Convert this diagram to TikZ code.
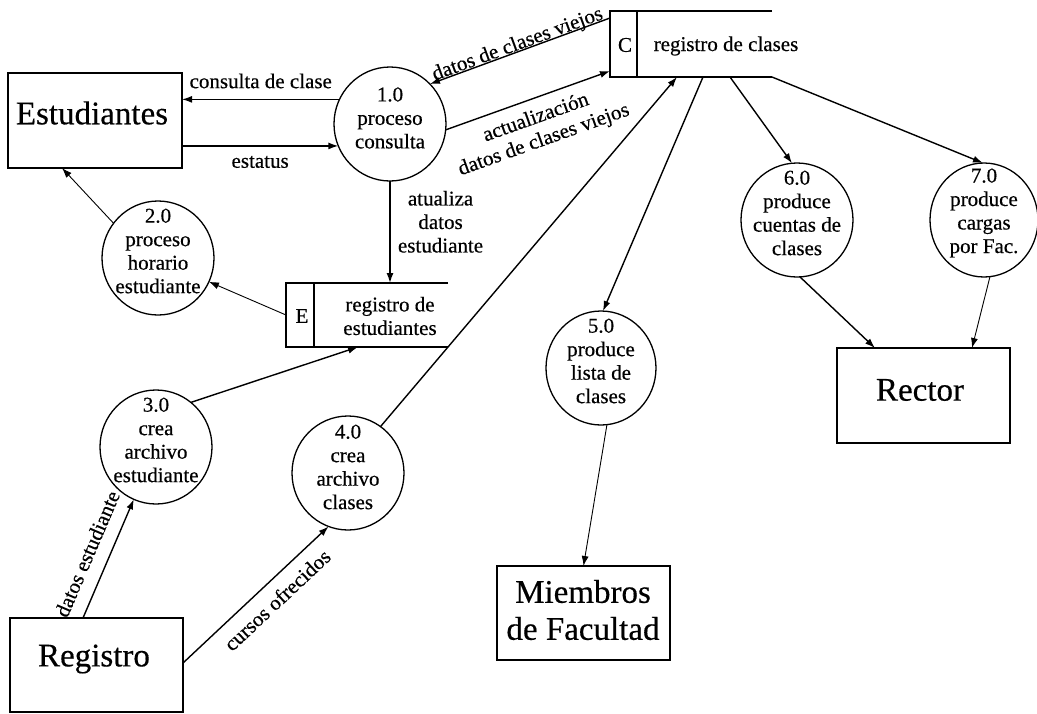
\documentclass[tikz,border=0pt]{standalone}
\usepackage{fontspec}
\setmainfont{Liberation Serif}[FakeBold=0.4]
\usetikzlibrary{shapes.geometric,arrows.meta}

\tikzset{
  every node/.style={outer sep=0pt},
  ext/.style={draw, rectangle, line width=1.7pt, inner sep=0pt},
  store/.style={rectangle, inner sep=0pt},
  storeline/.style={line width=1.5pt},
  proc/.style={draw, ellipse, line width=1.3pt, inner sep=0pt,
               minimum width=112pt, minimum height=114pt},
  small/.style={font=\fontsize{21}{23.5}\selectfont, align=center, inner sep=0pt},
  large/.style={font=\fontsize{33}{37}\selectfont, align=center, inner sep=0pt},
  flow/.style={line width=1.4pt, -{Latex[length=10pt,width=7pt]}},
  fine/.style={line width=0.9pt, -{Latex[length=10pt,width=7pt]}},
}

\begin{document}
\begin{tikzpicture}[x=1pt,y=-1pt]
\useasboundingbox[fill=white] (0,0) rectangle (1037,713);

% external entities
\node[ext, minimum width=174pt, minimum height=95pt] (est) at (95,120.5) {};
\node[large] (estT) at (92,113) {Estudiantes};
\node[ext, minimum width=173pt, minimum height=94pt] (reg) at (96.5,665) {};
\node[large] (regT) at (94,659) {Registro};
\node[ext, minimum width=173pt, minimum height=94pt] (mf) at (583.5,613) {};
\node[large] (mfT) at (583,610) {Miembros\\de Facultad};
\node[ext, minimum width=173pt, minimum height=95pt] (rec) at (923.5,395.5) {};
\node[large] (recT) at (920,390) {Rector};

% data stores (open on the right)
\node[store, minimum width=162pt, minimum height=66pt] (cs) at (691,44) {};
\draw[storeline] (cs.north east) -- (cs.north west) -- (cs.south west) -- (cs.south east);
\draw[line width=1.2pt] ([xshift=27pt]cs.north west) -- ([xshift=27pt]cs.south west);
\node[small] (csL) at (625,45) {C};
\node[small] (csT) at (726,46) {registro de clases};

\node[store, minimum width=162pt, minimum height=64pt] (es) at (367,315) {};
\draw[storeline] (es.north east) -- (es.north west) -- (es.south west) -- (es.south east);
\draw[line width=1.2pt] ([xshift=28pt]es.north west) -- ([xshift=28pt]es.south west);
\node[small] (esL) at (302,316) {E};
\node[small] (esT) at (390,316) {registro de\\estudiantes};

% processes
\node[proc] (p1) at (390,124) {};
\node[small] (p1T) at (390,118) {1.0\\proceso\\consulta};
\node[proc] (p2) at (158,258) {};
\node[small] (p2T) at (158,251) {2.0\\proceso\\horario\\estudiante};
\node[proc] (p3) at (156,447) {};
\node[small] (p3T) at (156,440) {3.0\\crea\\archivo\\estudiante};
\node[proc] (p4) at (348,473) {};
\node[small] (p4T) at (348,467) {4.0\\crea\\archivo\\clases};
\node[proc, minimum width=110pt] (p5) at (601,368) {};
\node[small] (p5T) at (601,361) {5.0\\produce\\lista de\\clases};
\node[proc] (p6) at (797,220) {};
\node[small] (p6T) at (797,213) {6.0\\produce\\cuentas de\\clases};
\node[proc, minimum width=108pt] (p7) at (984,220) {};
\node[small] (p7T) at (984,213) {7.0\\produce\\cargas\\por Fac.};

% flows
\draw[flow] (p1.154) -- (p1.154 -| est.east)
  node[small, midway, above=11pt] {consulta de clase};
\draw[flow] (p1.203 -| est.east) -- (p1.203)
  node[small, midway, below=10pt] {estatus};
\draw[flow] ([yshift=-7pt]cs.north west) -- (p1.45)
  node[small, sloped, pos=0.5, above=-3pt] {datos de clases viejos};
\draw[flow] (p1.354) -- ([yshift=6pt]cs.south west)
  node[small, sloped, pos=0.51, below=10pt] {actualización\\datos de clases viejos};
\draw[flow] (p1.south) -- (p1.south |- es.north)
  node[small, pos=0.4, right=8pt] {atualiza\\datos\\estudiante};
\draw[fine] (es.west) -- (p2.335);
\draw[fine] (p2.142) -- ([xshift=54pt]est.south west);
\draw[flow] (p3.52) -- ([xshift=72pt]es.south west);
\draw[flow] ([xshift=73pt]reg.north west) -- (p3.247)
  node[small, sloped, pos=0.47, above=14pt] {datos estudiante};
\draw[flow] ([yshift=2pt]reg.east) -- (p4.250)
  node[small, sloped, pos=0.56, below=11pt] {cursos ofrecidos};
\draw[flow] (p4.55) -- ([xshift=67pt]cs.south west);
\draw[flow] ([xshift=93pt]cs.south west) -- (p5.88);
\draw[flow] ([xshift=120pt]cs.south west) -- (p6.95);
\draw[flow] (cs.south east) -- (p7.91);
\draw[fine] (p5.276) -- (mf.north);
\draw[flow] (p6.273) -- ([xshift=38pt]rec.north west);
\draw[fine] (p7.276) -- ([xshift=-38pt]rec.north east);
\end{tikzpicture}
\end{document}
